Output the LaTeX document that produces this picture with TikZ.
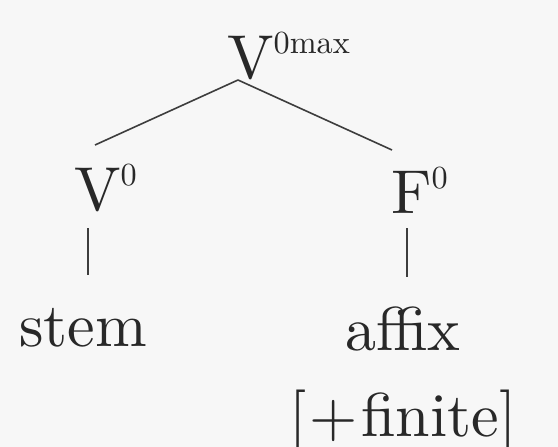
\documentclass[tikz,border=0pt]{standalone}
\usepackage{graphicx}
\usetikzlibrary{positioning}
\definecolor{paper}{RGB}{247,247,247}
\definecolor{ink}{RGB}{40,40,40}
\newcommand{\cattext}[1]{\scalebox{6.2}{#1}}
\newcommand{\barlev}[1]{\raisebox{4pt}{\scalebox{0.52}{#1}}}
\tikzset{
  cat/.style={inner sep=0pt,anchor=base west,text=ink,font=\fontsize{10}{12}\selectfont},
  branch/.style={draw=ink!90,line width=1.6pt},
}
\begin{document}
\begin{tikzpicture}[x=1pt,y=-1pt]
  \fill[paper] (0,0) rectangle (558,447);
  \useasboundingbox (0,0) rectangle (558,447);
  % categories
  \node[cat] (vmax) at (227,78) {\cattext{V\barlev{0max}}};
  \node[cat] (vzero) at (74,210) {\cattext{V\barlev{0}}};
  \node[cat] (fzero) at (391,213) {\cattext{F\barlev{0}}};
  % terminals
  \node[cat] (stem) at (19,346) {\cattext{stem}};
  \node[cat] (affix) at (345,350) {\cattext{affix}};
  \node[cat] (feat) at (289,436) {\cattext{[\kern.5pt+\kern.6pt finite]}};
  % branches
  \draw[branch] ([shift={(11,2)}]vmax.base west) -- ([shift={(21,-65)}]vzero.base west);
  \draw[branch] ([shift={(11,2)}]vmax.base west) -- ([shift={(1,-63)}]fzero.base west);
  \draw[branch] ([shift={(14,18)}]vzero.base west) -- ([shift={(69,-71)}]stem.base west);
  \draw[branch] ([shift={(16,15)}]fzero.base west) -- ([shift={(62,-73)}]affix.base west);
\end{tikzpicture}
\end{document}
